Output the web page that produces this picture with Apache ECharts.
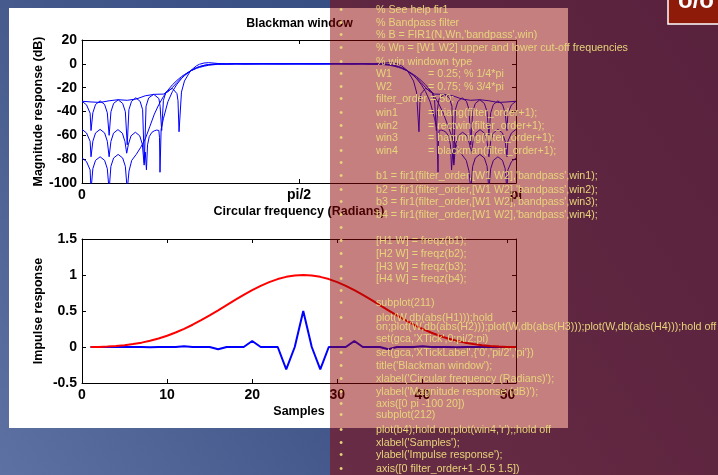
<!DOCTYPE html>
<html>
<head>
<meta charset="utf-8">
<title>FIR bandpass filter – window comparison</title>
<script src="https://cdn.jsdelivr.net/npm/echarts@6/dist/echarts.min.js"></script>
<style>
  html, body { margin: 0; padding: 0; background: #3d5285; }
  #chart { width: 718px; height: 475px; }
</style>
</head>
<body>
<div id="chart"></div>
<script>
// ---- Magnitude responses (dB) of the four 50th-order bandpass FIR filters,
// ---- frequency in units of pi (0 .. 1)
const triangResp = [
  [0,-31.4],[0.0208,-32.0],[0.0417,-32.4],[0.0625,-31.0],[0.0833,-30.1],[0.1042,-30.6],[0.125,-29.5],
  [0.1458,-26.8],[0.1667,-25.6],[0.1875,-25.4],[0.1979,-23.5],[0.2083,-19.9],[0.2188,-15.7],[0.2292,-11.8],
  [0.2361,-9.5],[0.25,-5.8],[0.2639,-3.2],[0.2708,-2.3],[0.2813,-1.28],[0.2917,-0.67],[0.3125,-0.24],
  [0.3333,-0.22],[0.3542,-0.16],[0.4167,-0.05],[0.5,0],
  [0.5833,-0.05],[0.6458,-0.16],[0.6667,-0.22],[0.6875,-0.24],[0.7083,-0.67],[0.7187,-1.28],[0.7292,-2.3],
  [0.7361,-3.2],[0.75,-5.8],[0.7639,-9.5],[0.7708,-11.8],[0.7812,-15.7],[0.7917,-19.9],[0.8021,-23.5],
  [0.8125,-25.4],[0.8333,-25.6],[0.8542,-26.8],[0.875,-29.5],[0.8958,-30.6],[0.9167,-30.1],[0.9375,-31.0],
  [0.9583,-32.4],[0.9792,-32.0],[1,-31.4]
];

const rectwinResp = [
  [0,-31.4],[0.0104,-34.4],[0.0187,-41.4],[0.0208,-56],
  [0.025,-41.1],[0.0312,-34.1],[0.0417,-31.1],[0.0521,-34.1],[0.0583,-41.1],[0.0625,-60],
  [0.0667,-40.2],[0.0729,-33.2],[0.0833,-30.2],[0.0937,-33.2],[0.0999,-40.2],[0.1042,-68],
  [0.1081,-38.5],[0.1141,-31.5],[0.124,-28.5],[0.1339,-31.5],[0.1397,-38.5],[0.1436,-83],
  [0.1476,-35.6],[0.1536,-28.6],[0.1652,-25.6],[0.1771,-29.1],[0.18,-35.6],[0.1836,-56],
  [0.1876,-30.6],[0.1936,-23.6],[0.2083,-20.6],[0.2188,-25.0],[0.2212,-31],[0.2236,-57],
  [0.2292,-23.7],[0.2361,-14.4],[0.25,-5.8],[0.2639,-1.6],[0.2708,-0.34],[0.2813,0.69],[0.2917,0.99],
  [0.3125,0.33],[0.3333,-0.22],[0.3542,0.19],[0.375,-0.12],[0.4167,0.1],[0.4583,-0.08],[0.5,0],
  [0.5417,-0.08],[0.5833,0.1],[0.625,-0.12],[0.6458,0.19],[0.6667,-0.22],[0.6875,0.33],[0.7083,0.99],
  [0.7187,0.69],[0.7292,-0.34],[0.7361,-1.6],[0.75,-5.8],[0.7639,-14.4],[0.7708,-23.7],
  [0.7764,-57],[0.7788,-31],[0.7812,-25.0],[0.7917,-20.6],[0.8064,-23.6],[0.8124,-30.6],
  [0.8164,-56],[0.82,-35.6],[0.8229,-29.1],[0.8348,-25.6],[0.8464,-28.6],[0.8524,-35.6],
  [0.8564,-83],[0.8603,-38.5],[0.8661,-31.5],[0.876,-28.5],[0.8859,-31.5],[0.8919,-38.5],
  [0.8958,-68],[0.9001,-40.2],[0.9063,-33.2],[0.9167,-30.2],[0.9271,-33.2],[0.9333,-40.2],
  [0.9375,-60],[0.9417,-41.1],[0.9479,-34.1],[0.9583,-31.1],[0.9688,-34.1],[0.975,-41.1],
  [0.9792,-56],[0.9813,-41.4],[0.9896,-34.4],[1,-31.4]
];

const hammingResp = [
  [0,-55],[0.0104,-58],[0.0187,-65],[0.0208,-78],
  [0.025,-65],[0.0312,-58],[0.0417,-55],[0.0521,-58],[0.0583,-65],[0.0625,-78],
  [0.0666,-65.2],[0.0726,-58.2],[0.0828,-55.2],[0.093,-58.2],[0.099,-65.2],[0.103,-75],
  [0.107,-67.4],[0.113,-60.4],[0.123,-57.4],[0.133,-60.4],[0.139,-67.4],[0.1432,-85],
  [0.1458,-74],[0.1485,-89],
  [0.151,-68],[0.155,-61],[0.161,-57.5],[0.1667,-56.2],[0.172,-55.6],[0.1771,-55.9],[0.1786,-62],[0.1797,-91],
  [0.1823,-55],[0.1875,-46.1],[0.1979,-31.8],[0.2083,-23.3],[0.2188,-17.1],[0.2292,-12.4],[0.2361,-9.9],
  [0.25,-6.0],[0.2639,-3.3],[0.2708,-2.4],[0.2813,-1.29],[0.2917,-0.6],[0.3125,-0.03],[0.3333,0.03],
  [0.4167,0],[0.5,0],
  [0.5833,0],[0.6667,0.03],[0.6875,-0.03],[0.7083,-0.6],[0.7187,-1.29],[0.7292,-2.4],[0.7361,-3.3],
  [0.75,-6.0],[0.7639,-9.9],[0.7708,-12.4],[0.7812,-17.1],[0.7917,-23.3],[0.8021,-31.8],[0.8125,-46.1],
  [0.8177,-55],[0.8203,-91],[0.8214,-62],[0.8229,-55.9],[0.828,-55.6],[0.8333,-56.2],[0.839,-57.5],
  [0.845,-61],[0.849,-68],[0.8515,-89],[0.8542,-74],[0.8568,-85],
  [0.861,-67.4],[0.867,-60.4],[0.877,-57.4],[0.887,-60.4],[0.893,-67.4],[0.897,-75],
  [0.901,-65.2],[0.907,-58.2],[0.9172,-55.2],[0.9274,-58.2],[0.9334,-65.2],[0.9375,-78],
  [0.9417,-65],[0.9479,-58],[0.9583,-55],[0.9688,-58],[0.975,-65],[0.9792,-78],
  [0.9813,-65],[0.9896,-58],[1,-55]
];

const blackmanResp = [
  [0,-79],[0.0104,-82],[0.0187,-89],[0.0208,-106],
  [0.025,-88],[0.0312,-81],[0.0417,-78],[0.0521,-81],[0.0583,-88],[0.0625,-106],
  [0.0666,-86],[0.0729,-79],[0.0833,-76],[0.0937,-79],[0.0999,-86],[0.1042,-106],
  [0.1083,-90],[0.1146,-81],[0.125,-76],[0.1354,-70],[0.1458,-63],[0.1563,-52.6],[0.1667,-42.2],
  [0.1771,-34.1],[0.1875,-27.5],[0.1979,-22.1],[0.2083,-17.6],[0.2188,-13.9],[0.2292,-10.7],[0.2361,-9.0],
  [0.25,-6.0],[0.2639,-3.8],[0.2708,-3.0],[0.2813,-1.97],[0.2917,-1.23],[0.3125,-0.37],[0.3333,-0.07],
  [0.3542,0],[0.5,0],
  [0.6458,0],[0.6667,-0.07],[0.6875,-0.37],[0.7083,-1.23],[0.7187,-1.97],[0.7292,-3.0],[0.7361,-3.8],
  [0.75,-6.0],[0.7639,-9.0],[0.7708,-10.7],[0.7812,-13.9],[0.7917,-17.6],[0.8021,-22.1],[0.8125,-27.5],
  [0.8229,-34.1],[0.8333,-42.2],[0.8437,-52.6],[0.8542,-63],[0.8646,-70],[0.875,-76],[0.8854,-81],
  [0.8917,-90],[0.8958,-106],[0.9001,-86],[0.9063,-79],[0.9167,-76],[0.9271,-79],[0.9334,-86],
  [0.9375,-106],[0.9417,-88],[0.9479,-81],[0.9583,-78],[0.9688,-81],[0.975,-88],
  [0.9792,-106],[0.9813,-89],[0.9896,-82],[1,-79]
];

// ---- Impulse response b4 and the 51-point Blackman window, samples 1 .. 51
const b4Taps = [
  0,0,0,0.0004, 0,0,0,-0.0031, 0,0,0,0.0115, 0,0,0,-0.0324, 0,0,0,0.0838, 0,0,0,-0.3101,
  0,0.4999, 0,-0.3101, 0,0,0,0.0838, 0,0,0,-0.0324, 0,0,0,0.0115, 0,0,0,-0.0031, 0,0,0,0.0004, 0,0,0
];
const blackmanWin = [
  0,0.0014,0.0058,0.0134,0.0247,0.0402,0.0605,0.0863,0.1180,0.1561,0.2008,0.2519,0.3092,
  0.3720,0.4393,0.5098,0.5819,0.6538,0.7237,0.7895,0.8492,0.9010,0.9432,0.9744,0.9936,
  1.0000,
  0.9936,0.9744,0.9432,0.9010,0.8492,0.7895,0.7237,0.6538,0.5819,0.5098,0.4393,0.3720,
  0.3092,0.2519,0.2008,0.1561,0.1180,0.0863,0.0605,0.0402,0.0247,0.0134,0.0058,0.0014,0
];

// ---- Tick labels
const freqTickValues = [0, 0.5, 1];
const freqTickLabels = ['0', 'pi/2', 'pi'];

// ---- MATLAB listing shown on the right-hand panel
const codeRows = [
  '% See help fir1',
  '% Bandpass filter',
  "% B = FIR1(N,Wn,'bandpass',win)",
  '% Wn = [W1 W2] upper and lower cut-off frequencies',
  '% win windown type',
  'W1\t= 0.25; % 1/4*pi',
  'W2\t= 0.75; % 3/4*pi',
  'filter_order = 50;',
  'win1\t= triang(filter_order+1);',
  'win2\t= rectwin(filter_order+1);',
  'win3\t= hamming(filter_order+1);',
  'win4\t= blackman(filter_order+1);',
  '',
  "b1 = fir1(filter_order,[W1 W2],'bandpass',win1);",
  "b2 = fir1(filter_order,[W1 W2],'bandpass',win2);",
  "b3 = fir1(filter_order,[W1 W2],'bandpass',win3);",
  "b4 = fir1(filter_order,[W1 W2],'bandpass',win4);",
  '',
  '[H1 W] = freqz(b1);',
  '[H2 W] = freqz(b2);',
  '[H3 W] = freqz(b3);',
  '[H4 W] = freqz(b4);',
  '',
  'subplot(211)',
  'plot(W,db(abs(H1)));hold',
  'on;plot(W,db(abs(H2)));plot(W,db(abs(H3)));plot(W,db(abs(H4)));hold off',
  "set(gca,'XTick',0:pi/2:pi)",
  "set(gca,'XTickLabel',{'0','pi/2','pi'})",
  "title('Blackman window');",
  "xlabel('Circular frequency (Radians)');",
  "ylabel('Magnitude response (dB)');",
  'axis([0 pi -100 20])',
  'subplot(212)',
  "plot(b4);hold on;plot(win4,'r');;hold off",
  "xlabel('Samples');",
  "ylabel('Impulse response');",
  'axis([0 filter_order+1 -0.5 1.5])'
];
// layout of the listing: row centres and rows that continue the previous bullet
const codeRowY = [10,23,35,48,62,74,87,99,113,126,138,151,163,176,190,202,215,228,
                  241,254,267,279,291,303,318,327,339,353,366,379,392,404,415,430,443,455,469];
const continuationRows = [25];

const FONT = '"Liberation Sans", Arial, Helvetica, sans-serif';
const CODE_COLOR = '#e6d47a';

const axisLine = { show: true, onZero: false, lineStyle: { color: '#000', width: 1 } };
const axisTick = { show: true, inside: true, length: 4, lineStyle: { color: '#000', width: 1 } };
const tickLabel = { color: '#000', fontFamily: FONT, fontSize: 14, fontWeight: 'bold', margin: 5 };
const nameStyle = { color: '#000', fontFamily: FONT, fontSize: 12.5, fontWeight: 'bold' };
const noSplit = { show: false };

function mirrorAxis(base, pos) {
  return Object.assign({}, base, {
    position: pos, name: '', axisLabel: { show: false }
  });
}

const freqAxis = {
  gridIndex: 0, type: 'value', min: 0, max: 1, interval: 0.5,
  axisLine, axisTick, splitLine: noSplit,
  axisLabel: Object.assign({}, tickLabel, {
    formatter: v => { const i = freqTickValues.indexOf(v); return i < 0 ? '' : freqTickLabels[i]; }
  }),
  name: 'Circular frequency (Radians)', nameLocation: 'middle', nameGap: 22, nameTextStyle: nameStyle,
  nameMoveOverlap: false
};
const dbAxis = {
  gridIndex: 0, type: 'value', min: -100, max: 20, interval: 20,
  axisLine, axisTick, splitLine: noSplit, axisLabel: tickLabel,
  name: 'Magnitude response (dB)', nameLocation: 'middle', nameGap: 37, nameTextStyle: nameStyle,
  nameMoveOverlap: false
};
const sampleAxis = {
  gridIndex: 1, type: 'value', min: 0, max: 51, interval: 10,
  axisLine, axisTick, splitLine: noSplit,
  axisLabel: Object.assign({}, tickLabel, { formatter: v => (v % 10 === 0 ? String(v) : '') }),
  name: 'Samples', nameLocation: 'middle', nameGap: 22, nameTextStyle: nameStyle,
  nameMoveOverlap: false
};
const impulseAxis = {
  gridIndex: 1, type: 'value', min: -0.5, max: 1.5, interval: 0.5,
  axisLine, axisTick, splitLine: noSplit, axisLabel: tickLabel,
  name: 'Impulse response', nameLocation: 'middle', nameGap: 37, nameTextStyle: nameStyle,
  nameMoveOverlap: false
};

function respSeries(data) {
  return {
    type: 'line', xAxisIndex: 0, yAxisIndex: 0, data,
    symbol: 'none', clip: true, lineStyle: { color: '#0000ff', width: 1 }, z: 3
  };
}

// ---- Slide decoration and the code listing
const graphics = [
  { type: 'rect', z: -10, silent: true, shape: { x: 0, y: 0, width: 718, height: 475 },
    style: { fill: new echarts.graphic.LinearGradient(0, 1, 1, 0, [
      { offset: 0, color: '#5d72a2' }, { offset: 0.35, color: '#43578a' }, { offset: 1, color: '#25437a' }
    ]) } },
  { type: 'rect', z: -9, silent: true, shape: { x: 9, y: 8, width: 559, height: 420 },
    style: { fill: '#ffffff' } },
  { type: 'rect', z: 100, silent: true, shape: { x: 330, y: 0, width: 388, height: 475 },
    style: { fill: 'rgba(140,0,0,0.5)' } },
  { type: 'rect', z: 102, silent: true, shape: { x: 668, y: -2, width: 52, height: 26 },
    style: { fill: '#8e1a0a', stroke: '#ffffff', lineWidth: 1.5 } },
  { type: 'text', z: 103, silent: true,
    style: { text: 'o/o', x: 678, y: 13, fill: '#ffffff', font: 'bold 24px ' + FONT,
             textAlign: 'left', align: 'left', textVerticalAlign: 'bottom', verticalAlign: 'bottom' } }
];

codeRows.forEach((row, i) => {
  const y = codeRowY[i];
  if (continuationRows.indexOf(i) < 0) {
    graphics.push({ type: 'text', z: 101, silent: true,
      style: { text: '\u2022', x: 341, y, fill: CODE_COLOR, font: '10.7px ' + FONT,
               textAlign: 'center', align: 'center', textVerticalAlign: 'middle', verticalAlign: 'middle' } });
  }
  const parts = row.split('\t');
  const xs = [376, 428];
  parts.forEach((p, k) => {
    if (!p) return;
    graphics.push({ type: 'text', z: 101, silent: true,
      style: { text: p, x: xs[k], y, fill: CODE_COLOR, font: '10.7px ' + FONT,
               textAlign: 'left', align: 'left', textVerticalAlign: 'middle', verticalAlign: 'middle' } });
  });
});

const chart = echarts.init(document.getElementById('chart'), null, { renderer: 'canvas' });
chart.setOption({
  animation: false,
  backgroundColor: 'transparent',
  title: {
    text: 'Blackman window', left: 299.5, top: 18, textAlign: 'center', padding: 0,
    textStyle: { fontFamily: FONT, fontSize: 12.3, fontWeight: 'bold', color: '#000' }
  },
  grid: [
    { left: 82, top: 40, width: 434, height: 143, outerBoundsMode: 'none', containLabel: false },
    { left: 82, top: 239, width: 434, height: 144, outerBoundsMode: 'none', containLabel: false }
  ],
  xAxis: [freqAxis, mirrorAxis(freqAxis, 'top'), sampleAxis, mirrorAxis(sampleAxis, 'top')],
  yAxis: [dbAxis, mirrorAxis(dbAxis, 'right'), impulseAxis, mirrorAxis(impulseAxis, 'right')],
  series: [
    respSeries(triangResp),
    respSeries(rectwinResp),
    respSeries(hammingResp),
    respSeries(blackmanResp),
    { type: 'line', xAxisIndex: 2, yAxisIndex: 2, symbol: 'none', clip: true,
      data: b4Taps.map((v, i) => [i + 1, v]), lineStyle: { color: '#0000ff', width: 2 }, z: 3 },
    { type: 'line', xAxisIndex: 2, yAxisIndex: 2, symbol: 'none', clip: true,
      data: blackmanWin.map((v, i) => [i + 1, v]), lineStyle: { color: '#ff0000', width: 2 }, z: 4 }
  ],
  graphic: { elements: graphics }
});
</script>
</body>
</html>
